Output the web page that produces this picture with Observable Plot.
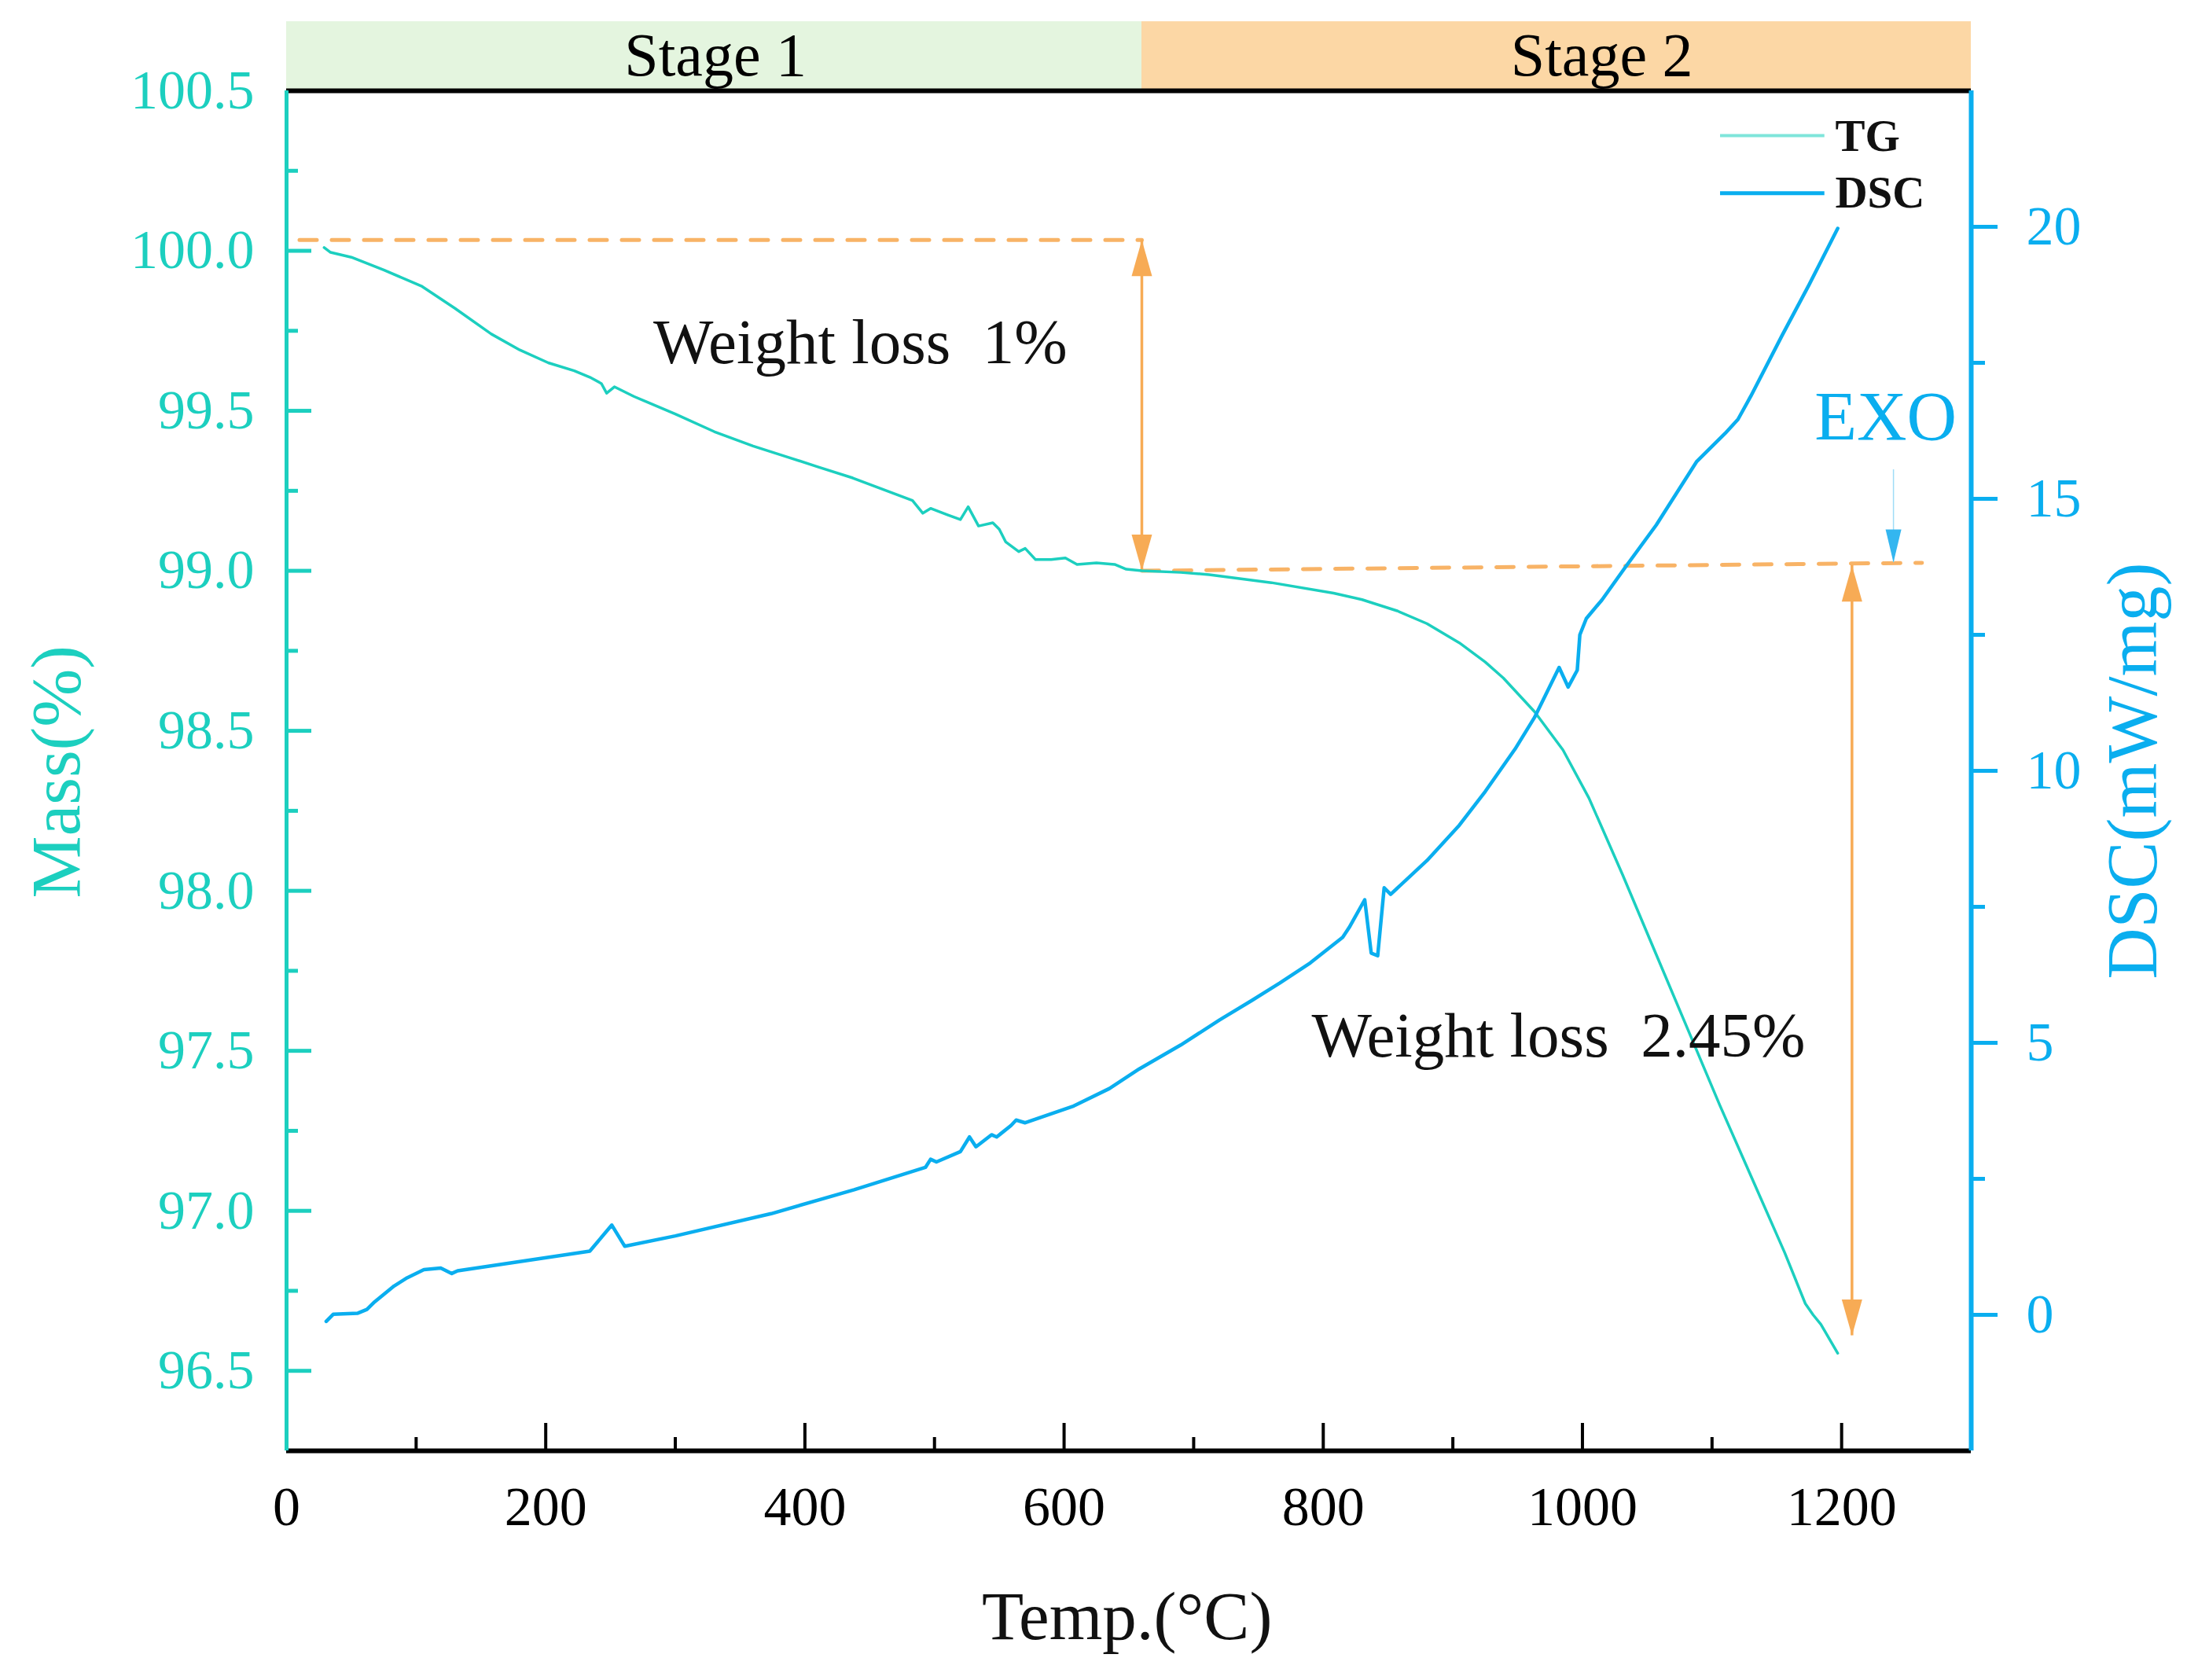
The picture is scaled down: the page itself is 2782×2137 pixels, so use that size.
<!DOCTYPE html>
<html>
<head>
<meta charset="utf-8">
<script src="https://cdn.jsdelivr.net/npm/d3@7"></script>
<script src="https://cdn.jsdelivr.net/npm/@observablehq/plot@0.6"></script>
<style>
  html, body { margin: 0; padding: 0; background: #ffffff; }
  #chart svg { display: block; }
</style>
</head>
<body>
<div id="chart"></div>
<script>
// ---------- data ----------
const tgTemp = [29, 34, 50, 75, 104, 130, 158, 180, 202, 222, 234, 243, 247, 253, 268, 300, 330, 360, 387, 410, 437, 460, 483, 491, 497, 510, 520, 526, 534, 545, 550, 555, 565, 570, 578, 590, 601, 610, 625, 639, 648, 660, 690, 712, 760, 808, 830, 857, 880, 905, 925, 939, 963, 985, 1005, 1031, 1056, 1081, 1106, 1131, 1156, 1172, 1178, 1184, 1197];
const tgMass = [100.01, 99.995, 99.98, 99.94, 99.89, 99.82, 99.74, 99.69, 99.65, 99.625, 99.605, 99.585, 99.555, 99.575, 99.545, 99.49, 99.435, 99.39, 99.355, 99.325, 99.29, 99.255, 99.22, 99.18, 99.195, 99.175, 99.16, 99.2, 99.14, 99.15, 99.13, 99.09, 99.06, 99.07, 99.035, 99.035, 99.04, 99.02, 99.025, 99.02, 99.005, 99.0, 98.995, 98.988, 98.963, 98.93, 98.91, 98.875, 98.835, 98.775, 98.715, 98.665, 98.56, 98.44, 98.29, 98.05, 97.81, 97.57, 97.33, 97.1, 96.87, 96.71, 96.675, 96.645, 96.555];

const dscTemp = [30.6, 36, 55, 62, 68, 83, 93, 106, 119, 127.5, 132, 180, 234, 251, 261, 300, 374, 438, 493, 497, 501.5, 520, 527, 532, 544, 548, 559, 563, 570, 607.5, 635, 658, 690, 720, 745, 766.5, 790, 815, 820, 832, 837, 842, 847, 852, 880, 905, 925, 948, 963, 982, 989, 996, 998, 1003, 1015, 1033, 1057, 1088, 1110, 1120, 1130, 1154, 1175, 1197];
const dscValue = [-0.12, 0.01, 0.03, 0.10, 0.24, 0.53, 0.68, 0.83, 0.86, 0.76, 0.81, 0.98, 1.17, 1.65, 1.26, 1.45, 1.86, 2.30, 2.71, 2.86, 2.81, 3.0, 3.27, 3.09, 3.31, 3.27, 3.48, 3.58, 3.53, 3.84, 4.16, 4.52, 4.96, 5.42, 5.78, 6.1, 6.47, 6.94, 7.12, 7.63, 6.65, 6.60, 7.85, 7.73, 8.35, 9.0, 9.62, 10.4, 10.98, 11.9, 11.54, 11.85, 12.5, 12.8, 13.14, 13.74, 14.52, 15.68, 16.2, 16.46, 16.89, 18.0, 18.94, 19.97];

const xTicks = [0, 200, 400, 600, 800, 1000, 1200];
const xMinorTicks = [100, 300, 500, 700, 900, 1100];
const massTicks = [96.5, 97.0, 97.5, 98.0, 98.5, 99.0, 99.5, 100.0, 100.5];
const massMinorTicks = [96.75, 97.25, 97.75, 98.25, 98.75, 99.25, 99.75, 100.25];
const dscTicks = [0, 5, 10, 15, 20];
const dscMinorTicks = [2.5, 7.5, 12.5, 17.5];

const massDomain = [96.25, 100.5];
const dscDomain = [-2.5, 22.5];
const tempDomain = [0, 1300];

const stageNames = ["Stage 1", "Stage 2"];
const stageStart = [0, 660];
const stageEnd = [660, 1300];
const stageLabelTemp = [331, 1015];
const stageColors = ["#e4f5df", "#fcd7a5"];

const dashStartTemp = [10, 660];
const dashEndTemp = [660, 1262];
const dashStartMass = [100.034, 99.0];
const dashEndMass = [100.034, 99.025];

const arrowTemp = [660, 1208];
const arrowTopMass = [100.034, 99.017];
const arrowBottomMass = [99.0, 96.61];

const noteTexts = ["Weight loss\u00a0\u00a01%", "Weight loss\u00a0\u00a02.45%"];
const noteTemp = [283, 791];
const noteMass = [99.65, 97.483];

const legendNames = ["TG", "DSC"];

// ---------- helpers ----------
const TEAL = "#1ccfbf";
const BLUE = "#0aaeef";
const ORANGE = "#f7ab55";
const span = (massDomain[1] - massDomain[0]) / (dscDomain[1] - dscDomain[0]);
const dscToMass = d => massDomain[0] + (d - dscDomain[0]) * span;
const massToDsc = m => (m - massDomain[0]) / span + dscDomain[0];

const tg = tgTemp.map((t, i) => ({T: t, M: tgMass[i]}));
const dsc = dscTemp.map((t, i) => ({T: t, M: dscToMass(dscValue[i])}));
const stages = stageNames.map((s, i) => ({s, x1: stageStart[i], x2: stageEnd[i], xl: stageLabelTemp[i], c: stageColors[i]}));
const dashes = dashStartTemp.map((t, i) => [{T: t, M: dashStartMass[i], k: i}, {T: dashEndTemp[i], M: dashEndMass[i], k: i}]).flat();
const arrows = arrowTemp.map((t, i) => ({T: t, top: arrowTopMass[i], bot: arrowBottomMass[i]}));
const notes = noteTexts.map((s, i) => ({s, T: noteTemp[i], M: noteMass[i]}));
const legend = legendNames.map((s, i) => ({s, y: [100.36, 100.18][i], yt: [100.312, 100.134][i], c: ["#7fe5da", BLUE][i], w: [4, 5][i]}));

const headUp = {draw(ctx) { ctx.moveTo(0, 0); ctx.lineTo(-13, 46); ctx.lineTo(13, 46); ctx.closePath(); }};
const headDown = {draw(ctx) { ctx.moveTo(0, 0); ctx.lineTo(-13, -46); ctx.lineTo(13, -46); ctx.closePath(); }};
const headDownSmall = {draw(ctx) { ctx.moveTo(0, 0); ctx.lineTo(-10, -42); ctx.lineTo(10, -42); ctx.closePath(); }};

const exo = [{T: 1240, top: 99.316, tip: 99.026, label: "EXO", lt: 1234, lm: 99.41}];

const chart = Plot.plot({
  width: 2782,
  height: 2137,
  marginLeft: 364,
  marginRight: 275,
  marginTop: 115,
  marginBottom: 292,
  x: {domain: tempDomain, label: null},
  y: {domain: massDomain, label: null},
  style: {fontFamily: "'Liberation Serif', 'Times New Roman', serif", background: "#ffffff", overflow: "visible"},
  marks: [
    // stage bands
    Plot.rectY(stages, {x1: "x1", x2: "x2", y1: massDomain[1], y2: 100.716, fill: "c"}),
    Plot.text(stages, {x: "xl", y: 100.548, text: "s", fontSize: 78, fill: "black", lineAnchor: "bottom", textAnchor: "middle"}),

    // dashed guides
    Plot.line(dashes, {x: "T", y: "M", z: "k", stroke: ORANGE, strokeWidth: 5, strokeDasharray: "22,19", strokeOpacity: 0.9}),

    // weight loss arrows
    Plot.ruleX(arrows, {x: "T", y1: "top", y2: "bot", stroke: ORANGE, strokeWidth: 3.5}),
    Plot.dot(arrows, {x: "T", y: "top", symbol: headUp, fill: ORANGE, stroke: "none"}),
    Plot.dot(arrows, {x: "T", y: "bot", symbol: headDown, fill: ORANGE, stroke: "none"}),

    // EXO arrow
    Plot.ruleX(exo, {x: "T", y1: "top", y2: "tip", stroke: "#9fdcf7", strokeWidth: 1.5}),
    Plot.dot(exo, {x: "T", y: "tip", symbol: headDownSmall, fill: "#33b6f0", stroke: "none"}),
    Plot.text(exo, {x: "lt", y: "lm", text: "label", fontSize: 88, fill: BLUE, lineAnchor: "bottom", textAnchor: "middle"}),

    // curves
    Plot.line(tg, {x: "T", y: "M", stroke: TEAL, strokeWidth: 3.5}),
    Plot.line(dsc, {x: "T", y: "M", stroke: BLUE, strokeWidth: 4.5}),

    // annotations
    Plot.text(notes, {x: "T", y: "M", text: "s", fontSize: 81, fill: "#111", lineAnchor: "bottom", textAnchor: "start"}),

    // legend
    Plot.ruleY(legend, {y: "y", x1: 1106.5, x2: 1187, stroke: "c", strokeWidth: "w"}),
    Plot.text(legend, {x: 1195, y: "yt", text: "s", fontSize: 57, fontWeight: "bold", fill: "#111", lineAnchor: "bottom", textAnchor: "start"}),

    // axes
    Plot.axisY({ticks: massTicks, anchor: "left", tickSize: -32, tickPadding: 73, tickFormat: d3.format(".1f"), fontSize: 70, color: TEAL, strokeWidth: 5, label: null}),
    Plot.axisY({ticks: massMinorTicks, anchor: "left", tickSize: -15, tickFormat: () => "", color: TEAL, strokeWidth: 5, label: null}),
    Plot.axisY({ticks: dscTicks.map(dscToMass), anchor: "right", tickSize: 33, tickPadding: 37, tickFormat: m => String(Math.round(massToDsc(m))), fontSize: 70, color: BLUE, strokeWidth: 5, label: null}),
    Plot.axisY({ticks: dscMinorTicks.map(dscToMass), anchor: "right", tickSize: 17, tickFormat: () => "", color: BLUE, strokeWidth: 5, label: null}),
    Plot.axisX({ticks: xTicks, anchor: "bottom", tickSize: -35, tickPadding: 80, tickFormat: d => String(d), fontSize: 70, color: "black", strokeWidth: 4, label: null}),
    Plot.axisX({ticks: xMinorTicks, anchor: "bottom", tickSize: -17, tickFormat: () => "", color: "black", strokeWidth: 4, label: null}),

    // frame lines
    Plot.ruleY([massDomain[1]], {stroke: "black", strokeWidth: 6}),
    Plot.ruleY([massDomain[0]], {stroke: "black", strokeWidth: 6}),
    Plot.ruleX([tempDomain[0]], {stroke: TEAL, strokeWidth: 5}),
    Plot.ruleX([tempDomain[1]], {stroke: BLUE, strokeWidth: 6}),

    // axis titles
    Plot.text(["Temp.(°C)"], {x: 648.6, y: 95.662, text: d => d, fontSize: 87, fill: "#111", lineAnchor: "bottom", textAnchor: "middle"}),
    Plot.text(["Mass(%)"], {x: -160, y: 98.372, text: d => d, fontSize: 89, fill: TEAL, rotate: -90, lineAnchor: "bottom", textAnchor: "middle"}),
    Plot.text(["DSC(mW/mg)"], {x: 1443, y: 98.375, text: d => d, fontSize: 90, fill: BLUE, rotate: -90, lineAnchor: "bottom", textAnchor: "middle"})
  ]
});
document.getElementById("chart").appendChild(chart);
</script>
</body>
</html>
